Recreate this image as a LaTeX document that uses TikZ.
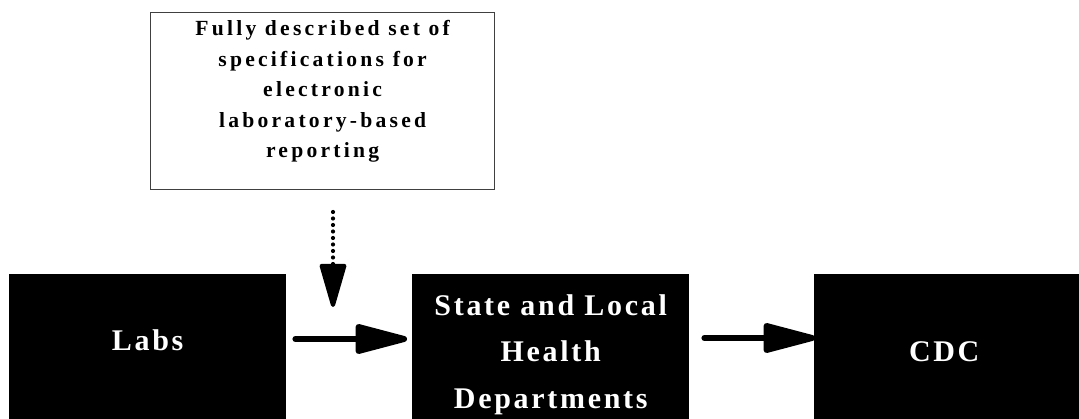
\documentclass[tikz,border=0pt]{standalone}
\usepackage{fontspec}
\setmainfont{Liberation Serif}
\newfontfamily\boxfont[LetterSpace=9]{Liberation Serif}
\newfontfamily\specfont[LetterSpace=15]{Liberation Serif}
\usetikzlibrary{arrows.meta,calc}

\begin{document}
\begin{tikzpicture}[x=1pt,y=-1pt,
    blackbox/.style={fill=black,draw=none,anchor=north west,inner sep=0pt,
      minimum width=277pt,minimum height=170pt},
    boxlabel/.style={text=white,align=center,inner sep=0pt,
      font=\boxfont\bfseries\fontsize{30}{46.5}\selectfont},
    specbox/.style={draw=black!75,line width=1.2pt,fill=white,anchor=north west,
      inner sep=0pt,minimum width=344pt,minimum height=177pt},
    speclabel/.style={align=center,inner sep=0pt,
      font=\specfont\bfseries\fontsize{21.6}{30.5}\selectfont},
    flow/.style={line width=6pt,line cap=round,
      -{Triangle[length=61pt,width=30pt,round]}},
    dotflow/.style={line width=4.2pt,line cap=round,dash pattern=on 0pt off 6.5pt,
      -{Triangle[length=49pt,width=27pt,round]}}]
  \clip (0,0) rectangle (1079,419);
  \useasboundingbox (0,0) rectangle (1079,419);
  % requirement box
  \node[specbox] (specs) at (150,12) {};
  \node[speclabel] (specstext) at ([yshift=9.5pt]specs.center)
    {Fully described set of\\specifications for\\electronic\\laboratory-based\\reporting};
  % reporting chain
  \node[blackbox] (labs) at (9,274) {};
  \node[blackbox] (state) at (412,274) {};
  \node[blackbox] (cdc) at (814,274) {};
  \node[boxlabel] (labstext) at ([yshift=-65.8pt]labs.north) {Labs};
  \node[boxlabel] (statetext) at ([yshift=-80.5pt]state.north) {State and Local\\Health\\Departments};
  \node[boxlabel] (cdctext) at ([xshift=-8.5pt,yshift=-78pt]cdc.north) {CDC};
  \draw[flow] ([xshift=9pt,yshift=-65pt]labs.north east) -- ([xshift=-5pt,yshift=-65pt]state.north west);
  \draw[flow] ([xshift=15pt,yshift=-64pt]state.north east) -- ([xshift=1pt,yshift=-64pt]cdc.north west);
  \coordinate (dottop) at (333,212);
  \coordinate (dottip) at (333,307);
  \draw[dotflow] (dottop) -- (dottip);
\end{tikzpicture}
\end{document}
